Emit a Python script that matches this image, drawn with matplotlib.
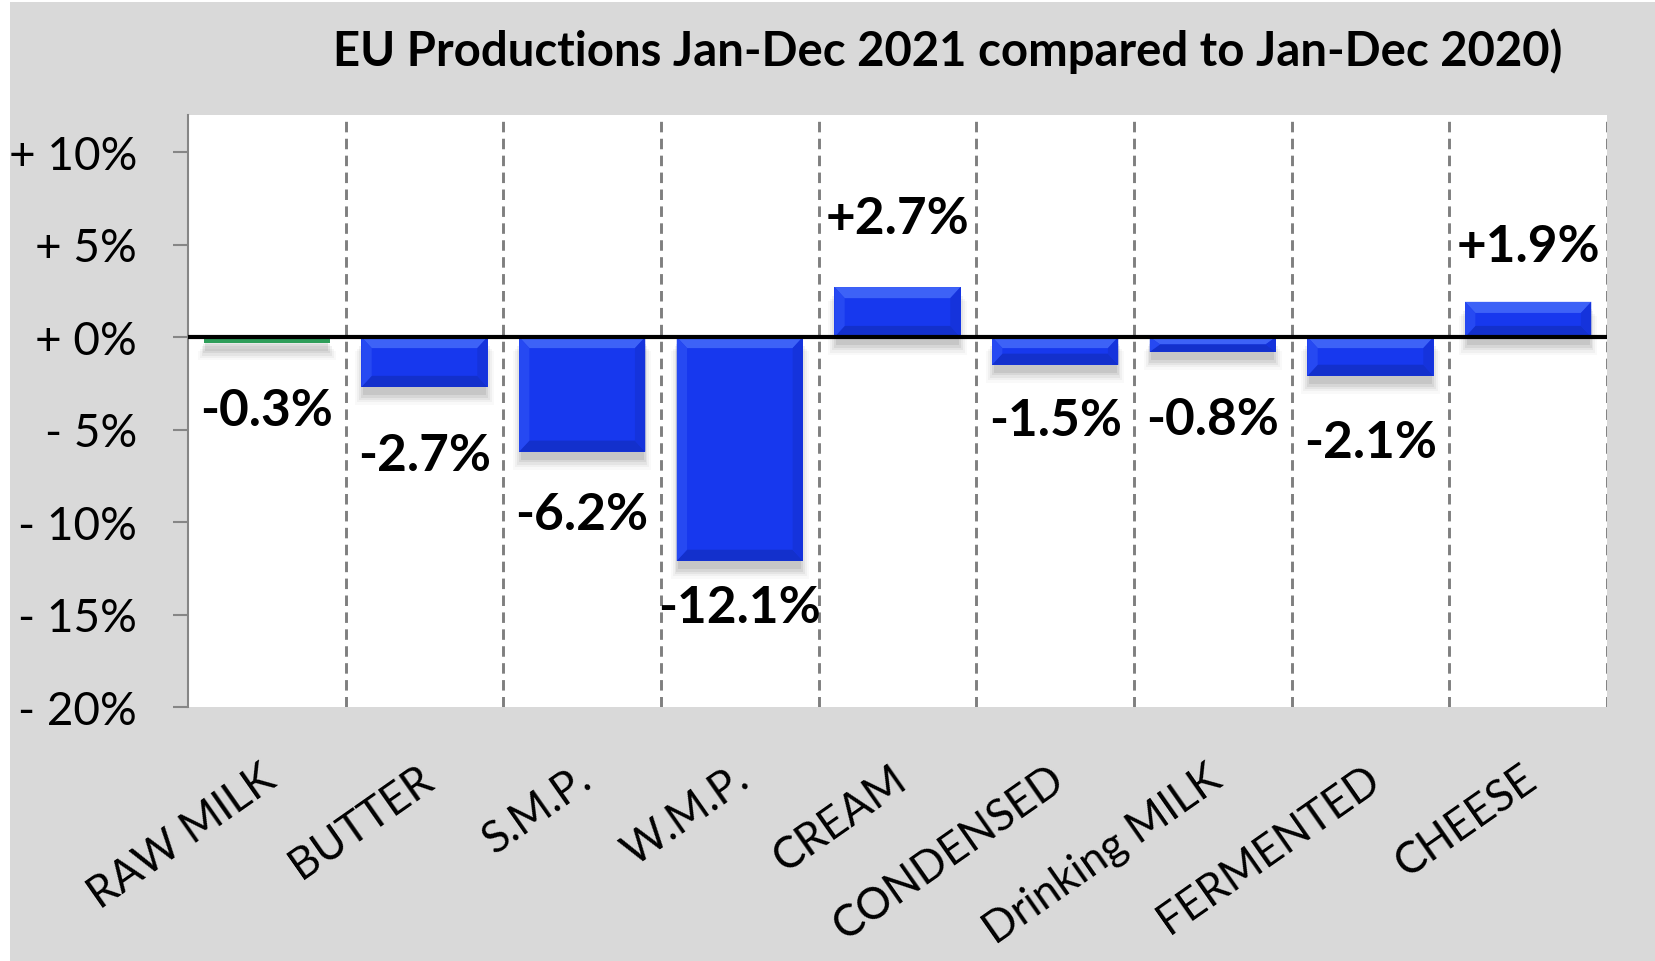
import matplotlib
matplotlib.use('Agg')
import matplotlib.pyplot as plt
import matplotlib.transforms as mtransforms
from matplotlib.patches import Rectangle, Polygon
import numpy as np

plt.rcParams['font.family'] = ['Lato', 'DejaVu Sans']

categories = ["RAW MILK", "BUTTER", "S.M.P.", "W.M.P.", "CREAM", "CONDENSED",
              "Drinking MILK", "FERMENTED", "CHEESE"]
values = [-0.3, -2.7, -6.2, -12.1, 2.7, -1.5, -0.8, -2.1, 1.9]
value_labels = ["-0.3%", "-2.7%", "-6.2%", "-12.1%", "+2.7%", "-1.5%", "-0.8%", "-2.1%", "+1.9%"]
label_offsets = [-3.66, -3.70, -3.40, -2.54, 3.69, -3.01, -3.65, -3.60, 2.97]
yticks = [-20, -15, -10, -5, 0, 5, 10]
ytick_labels = ["- 20%", "- 15%", "- 10%", "- 5%", "+ 0%", "+ 5%", "+ 10%"]
title = "EU Productions Jan-Dec 2021 compared to Jan-Dec 2020)"

W, H = 1656, 962
fig = plt.figure(figsize=(W / 100, H / 100), dpi=100)
fig.patch.set_facecolor('white')
fig.patches.append(Rectangle((10 / W, 0), 1 - 10 / W, 1 - 3 / H, transform=fig.transFigure,
                             facecolor='#d9d9d9', edgecolor='none', zorder=-10))

ax = fig.add_axes([188 / W, 1 - 708 / H, (1607 - 188) / W, (708 - 116) / H])
ax.set_facecolor('white')
ax.set_xlim(-0.5, len(categories) - 0.5)
ax.set_ylim(-20, 12)

x = np.arange(len(categories))
colors = ['#2e9e5a'] + ['#1738ee'] * (len(categories) - 1)

# soft drop shadow
for i, v in enumerate(values):
    lo, hi = min(0, v), max(0, v)
    for k, a in enumerate([0.12, 0.09, 0.07, 0.05, 0.03]):
        grow = 0.012 * k
        ax.add_patch(Rectangle((i - 0.4 - grow + 0.01, lo - 0.45 - 0.13 * k),
                               0.8 + 2 * grow - 0.02, (hi - lo) + 0.2,
                               facecolor='#505050', edgecolor='none', alpha=a, zorder=2))

bars = ax.bar(x, values, width=0.8, color=colors, edgecolor='none', zorder=3)

# bevel effect
for i, (b, v) in enumerate(zip(bars, values)):
    if abs(v) < 0.5:
        continue
    x0, w = b.get_x(), b.get_width()
    lo, hi = min(0, v), max(0, v)
    dx = 0.065
    dy = min(0.6, (hi - lo) / 2)
    polys = [
        ([(x0, hi), (x0 + w, hi), (x0 + w - dx, hi - dy), (x0 + dx, hi - dy)], '#3d62f7'),
        ([(x0, lo), (x0 + w, lo), (x0 + w - dx, lo + dy), (x0 + dx, lo + dy)], '#1330cc'),
        ([(x0, lo), (x0 + dx, lo + dy), (x0 + dx, hi - dy), (x0, hi)], '#2649f2'),
        ([(x0 + w, lo), (x0 + w - dx, lo + dy), (x0 + w - dx, hi - dy), (x0 + w, hi)], '#1533dc'),
    ]
    for pts, c in polys:
        ax.add_patch(Polygon(pts, closed=True, facecolor=c, edgecolor='none', zorder=3.5))

ax.axhline(0, color='black', lw=3, zorder=4)

for bnd in np.arange(0.5, len(categories), 1.0):
    ax.axvline(bnd, color='#7f7f7f', lw=2.1, ls=(0, (3.6, 2.2)), zorder=1)

for s in ['top', 'right', 'bottom']:
    ax.spines[s].set_visible(False)
ax.spines['left'].set_color('#868686')
ax.spines['left'].set_linewidth(1.5)

ax.set_yticks(yticks)
ax.set_yticklabels(ytick_labels)
ax.tick_params(axis='y', length=10.8, width=1.5, color='#868686', pad=26, labelsize=33,
               labelcolor='black')
ax.set_xticks([])

trans = mtransforms.blended_transform_factory(ax.transData, ax.transAxes)
for i, c in enumerate(categories):
    ax.text(i + 0.03, -0.113, c, transform=trans, rotation=35, rotation_mode='anchor',
            ha='right', va='center', fontsize=31.5, color='black')

for i, (v, lab, off) in enumerate(zip(values, value_labels, label_offsets)):
    ax.text(i, v + off, lab, ha='center', va='center', fontsize=37, fontweight='bold',
            color='black', zorder=6)

fig.text(948 / W, 1 - 51 / H, title, ha='center', va='center', fontsize=34,
         fontweight='bold', color='black')

fig.savefig('out.png', dpi=100, facecolor=fig.get_facecolor())
